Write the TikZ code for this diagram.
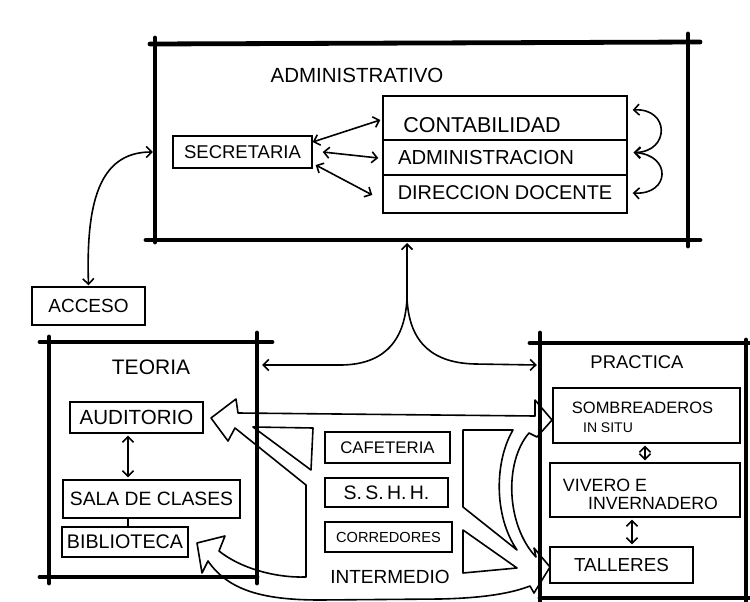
\documentclass[tikz,border=0pt]{standalone}
\usepackage{fontspec}
\setmainfont{Liberation Sans}
\usetikzlibrary{arrows.meta}
\begin{document}
\begin{tikzpicture}[x=1pt,y=-1pt,
  >={Straight Barb[length=5.5pt,width=11pt]},
  wall/.style={line width=4.8pt,line cap=round},
  pen/.style={line width=1.6pt,line join=round,line cap=round},
  room/.style 2 args={minimum width=#1,minimum height=#2,inner sep=0pt},
  box/.style 2 args={draw,line width=1.4pt,minimum width=#1,minimum height=#2,inner sep=0pt},
  fs/.style={font=\fontsize{#1}{#1}\selectfont,inner sep=0pt}]
\useasboundingbox (0,0) rectangle (750,602);
\fill[white] (0,0) rectangle (750,602);

% ---------- rooms (named areas) ----------
\node[room={533}{197}] (adm) at (421.5,141.5) {};
\node[room={209}{235}] (teo) at (152.5,459.5) {};
\node[room={206}{254}] (pra) at (643,470) {};

% ---------- thick walls ----------
% administrativo
\draw[wall] (150,44) -- (700,42);
\draw[wall] (155,38) -- (155,242);
\draw[wall] (146,240) -- (700,240);
\draw[wall] (688,34) -- (688,246);
% teoria
\draw[wall] (40,342) -- (272,342);
\draw[wall] (49,337) -- (49,583);
\draw[wall] (257,333) -- (257,583);
\draw[wall] (40,577) -- (257,577);
% practica
\draw[wall] (530,343) -- (752,343);
\draw[wall] (540,333) -- (540,604);
\draw[wall] (746,340) -- (746,604);
\draw[wall] (540,598) -- (752,598);

% ---------- titles ----------
\node[fs=20.5] (tadm) at (357,75) {ADMINISTRATIVO};
\node[fs=21] (tteo) at (151,367) {TEORIA};
\node[fs=18.4] (tpra) at (637,362) {PRACTICA};
\node[fs=19] (tint) at (390,577) {INTERMEDIO};

% ---------- administrativo ----------
\node[box={139}{32},fs=18.5] (sec) at (242.5,152) {SECRETARIA};
\node[box={244}{44}] (cont) at (505,118) {};
\node[box={244}{35}] (admn) at (505,157.5) {};
\node[box={244}{38}] (dir) at (505,194) {};
\node[fs=21.5] (tcont) at (482,125) {CONTABILIDAD};
\node[fs=20.3] (tadmn) at (486,158) {ADMINISTRACION};
\node[fs=19.9] (tdir) at (505,193) {DIRECCION DOCENTE};

\draw[pen,<->] ([yshift=10pt]sec.east) -- ([xshift=-2pt,yshift=-2pt]cont.west);
\draw[pen,<->] ([xshift=10pt]sec.east) -- ([xshift=-4pt,yshift=-0.5pt]admn.west);
\draw[pen,<->] ([xshift=3pt,yshift=-13pt]sec.east) -- ([xshift=-10pt,yshift=-1pt]dir.west);
\draw[pen,<->] ([xshift=5pt,yshift=8pt]cont.east)
   .. controls (670,108) and (670,152) .. ([xshift=6pt,yshift=5pt]admn.east);
\draw[pen,<->] ([xshift=6pt,yshift=5pt]admn.east)
   .. controls (672,155) and (670,195) .. ([xshift=5pt,yshift=1pt]dir.east);

% ---------- acceso ----------
\node[box={113}{38},fs=19] (acc) at (88.5,306) {ACCESO};
\coordinate (admw) at (adm.west |- sec.west);
\draw[pen,<->] ([yshift=1pt]acc.north) .. controls (86,205) and (98,152) .. ([xshift=-2pt]admw);

% ---------- links between the three blocks ----------
\coordinate (door) at (407,243);
\coordinate (hub) at (407,298);
\coordinate (teoE) at ([xshift=5pt]teo.east |- 0,365);
\coordinate (praW) at ([xshift=-3pt]pra.west |- 0,365);
\draw[pen,->] (hub) -- (door);
\draw[pen,->] (hub) .. controls (405,345) and (380,365) .. (340,365) -- (teoE);
\draw[pen,->] (hub) .. controls (409,345) and (435,363) .. (475,364) -- (praW);

% ---------- teoria ----------
\node[box={133}{31},fs=20.5] (aud) at (136.5,417.5) {AUDITORIO};
\node[box={177}{38},fs=19.3] (sala) at (151.5,499) {SALA DE CLASES};
\node[box={126}{30},fs=19.7] (bib) at (125,542) {BIBLIOTECA};
\draw[pen,<->] ([xshift=-8.5pt,yshift=-2pt]aud.south) -- ([xshift=-23.5pt,yshift=2pt]sala.north);
\draw[pen] ([xshift=-23.5pt]sala.south) -- ([xshift=3pt]bib.north);

% ---------- practica ----------
\node[box={187}{55}] (somb) at (646.5,415.5) {};
\node[box={190}{54}] (viv) at (645,490) {};
\node[box={143}{36},fs=18.8] (tal) at (621.5,565) {TALLERES};
\node[fs=16.5] (tsomb) at (642.5,408) {SOMBREADEROS};
\node[fs=14] (tsitu) at (608,428) {IN SITU};
\node[fs=17.8] (tviv) at (605,485) {VIVERO E};
\node[fs=17.7] (tinv) at (653,503) {INVERNADERO};
\draw[pen,<->] ([xshift=-1.5pt,yshift=-2pt]somb.south) -- ([yshift=2pt]viv.north);
\draw[pen,<->] ([xshift=-13pt,yshift=-2pt]viv.south) -- ([xshift=10.5pt,yshift=2pt]tal.north);

% ---------- intermedio ----------
\node[box={125}{31},fs=16.8] (caf) at (387.5,447.5) {CAFETERIA};
\node[box={123}{29},fs=19.5] (ssh) at (386.5,492.5) {S.\,S.\,H.\,H.};
\node[box={127}{30},fs=14.6] (cor) at (388.5,537) {CORREDORES};

% outline of the circulation, with its open arrows into the rooms
\draw[pen]
  (238,413) -- (236,399) -- (211,418) -- (228,441) -- (235,428)
  -- (306,485) -- (306,577)
  .. controls (275,578) and (240,568) .. (219,551)
  -- (225,536) -- (197,543) -- (202,573) -- (208,561)
  .. controls (228,590) and (262,600) .. (320,600)
  -- (440,599)
  .. controls (485,598) and (512,593) .. (530,586)
  -- (534,593) -- (550,567) -- (534,548) -- (536,557)
  .. controls (506,525) and (504,462) .. (529,433)
  -- (537,437) -- (552,420) -- (535,400) -- (535,416)
  -- cycle;

% islands inside the circulation
\draw[pen] (253,427) -- (313,428) -- (311,470) -- cycle;
\draw[pen] (463,430) -- (513,430) .. controls (495,460) and (493,515) .. (517,550) -- (463,507) -- cycle;
\draw[pen] (463,530) -- (463,573) -- (517,568) -- cycle;
\end{tikzpicture}
\end{document}
